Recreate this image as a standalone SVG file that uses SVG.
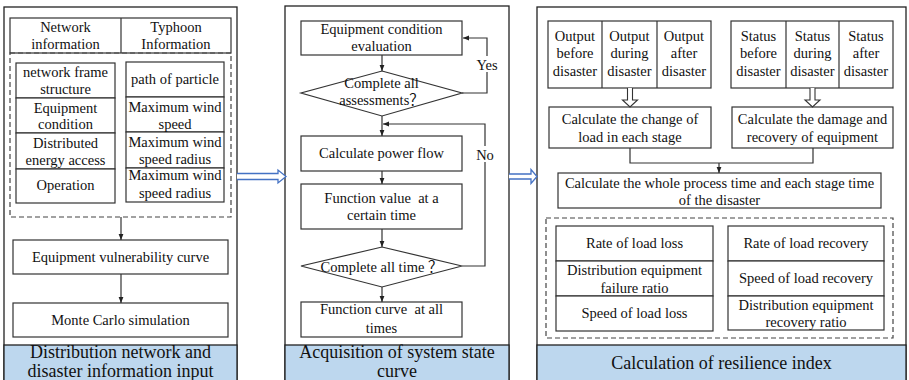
<svg xmlns="http://www.w3.org/2000/svg" width="909" height="380" viewBox="0 0 909 380" font-family="'Liberation Serif', 'Times New Roman', Tinos, 'DejaVu Serif', serif">
<style>
text{font-size:14.5px;fill:#111;text-anchor:middle}
.cjk{font-family:"Noto Sans CJK SC",sans-serif}
.big{font-size:18px}
.box{fill:#fff;stroke:#333;stroke-width:1.2}
.panel{fill:#fff;stroke:#222;stroke-width:1.3}
.band{fill:#bdd7ee;stroke:#222;stroke-width:1.3}
.dash{fill:none;stroke:#444;stroke-width:1.2;stroke-dasharray:5,3}
.ln{fill:none;stroke:#333;stroke-width:1.2}
.arr{fill:none;stroke:#333;stroke-width:1.2;marker-end:url(#ah)}
.hol{fill:#fff;stroke:#4472c4;stroke-width:1.3}
.hold{fill:#fff;stroke:#333;stroke-width:1.1}
</style>
<defs>
<marker id="ah" viewBox="0 0 10 10" refX="10" refY="5" markerWidth="6" markerHeight="6" markerUnits="userSpaceOnUse" orient="auto">
<path d="M0,1 L10,5 L0,9 z" fill="#222"/>
</marker>
</defs>

<!-- Panel 1 -->
<g id="panel1">
<rect class="panel" x="4" y="7" width="233" height="380"/>
<rect class="band" x="4" y="345" width="233" height="42"/>
<text class="big" x="120.5" y="358">Distribution network and</text>
<text class="big" x="120.5" y="377">disaster information input</text>
</g>
<g id="header1">
<rect class="box" x="10" y="18" width="221" height="35"/>
<line class="ln" x1="121" y1="18" x2="121" y2="53"/>
<text x="65.5" y="32">Network</text>
<text x="65.5" y="49">information</text>
<text x="176" y="32">Typhoon</text>
<text x="176" y="49">Information</text>
</g>
<g id="inputs1">
<rect class="dash" x="10" y="53" width="221" height="164"/>
<rect class="box" x="16" y="63" width="99" height="35"/>
<rect class="box" x="16" y="98" width="99" height="35"/>
<rect class="box" x="16" y="133" width="99" height="36"/>
<rect class="box" x="16" y="169" width="99" height="34"/>
<text x="65.5" y="77">network frame</text>
<text x="65.5" y="94">structure</text>
<text x="65.5" y="113">Equipment</text>
<text x="65.5" y="129">condition</text>
<text x="65.5" y="148">Distributed</text>
<text x="65.5" y="165">energy access</text>
<text x="65.5" y="190">Operation</text>
<rect class="box" x="126" y="62" width="98" height="35"/>
<rect class="box" x="126" y="97" width="98" height="35"/>
<rect class="box" x="126" y="132" width="98" height="36"/>
<rect class="box" x="126" y="168" width="98" height="34"/>
<text x="175" y="84">path of particle</text>
<text x="175" y="112">Maximum wind</text>
<text x="175" y="129">speed</text>
<text x="175" y="147">Maximum wind</text>
<text x="175" y="164">speed radius</text>
<text x="175" y="180">Maximum wind</text>
<text x="175" y="198">speed radius</text>
</g>
<g id="vuln">
<rect class="box" x="13" y="240" width="215" height="34"/>
<text x="120.5" y="262">Equipment vulnerability curve</text>
</g>
<g id="monte">
<rect class="box" x="13" y="303" width="215" height="34"/>
<text x="120.5" y="325">Monte Carlo simulation</text>
</g>

<!-- Panel 2 -->
<g id="panel2">
<rect class="panel" x="285" y="6" width="224" height="381"/>
<rect class="band" x="285" y="345" width="224" height="42"/>
<text class="big" x="397" y="358">Acquisition of system state</text>
<text class="big" x="397" y="377">curve</text>
</g>
<g id="evalbox">
<rect class="box" x="301" y="21" width="161" height="34"/>
<text x="381.5" y="34">Equipment condition</text>
<text x="381.5" y="51">evaluation</text>
</g>
<g id="diamond1">
<polygon class="box" points="382,71 462,93 382,116 301,93"/>
<text x="381.5" y="88">Complete all</text>
<text x="381.5" y="105">assessments<tspan class="cjk">？</tspan></text>
</g>
<g id="powerflow">
<rect class="box" x="301" y="136" width="161" height="35"/>
<text x="381.5" y="158">Calculate power flow</text>
</g>
<g id="funcvalue">
<rect class="box" x="301" y="184" width="161" height="45"/>
<text x="381.5" y="203" xml:space="preserve">Function value  at a</text>
<text x="381.5" y="220">certain time</text>
</g>
<g id="diamond2">
<polygon class="box" points="382,247 462,266 382,287 301,266"/>
<text x="381.5" y="272" xml:space="preserve">Complete all time <tspan class="cjk">？</tspan></text>
</g>
<g id="funccurve">
<rect class="box" x="301" y="302" width="161" height="35"/>
<text x="381.5" y="314" xml:space="preserve">Function curve  at all</text>
<text x="381.5" y="333">times</text>
</g>

<!-- Panel 3 -->
<g id="panel3">
<rect class="panel" x="537" y="7" width="369" height="380"/>
<rect class="band" x="537" y="345" width="369" height="42"/>
<text class="big" x="721.5" y="369">Calculation of resilience index</text>
</g>
<g id="outputs">
<rect class="box" x="548" y="21" width="163" height="67"/>
<line class="ln" x1="602" y1="21" x2="602" y2="88"/>
<line class="ln" x1="657" y1="21" x2="657" y2="88"/>
<text x="575" y="41">Output</text><text x="575" y="58">before</text><text x="575" y="76">disaster</text>
<text x="629.5" y="41">Output</text><text x="629.5" y="58">during</text><text x="629.5" y="76">disaster</text>
<text x="684" y="41">Output</text><text x="684" y="58">after</text><text x="684" y="76">disaster</text>
</g>
<g id="statuses">
<rect class="box" x="731" y="21" width="162" height="67"/>
<line class="ln" x1="786" y1="21" x2="786" y2="88"/>
<line class="ln" x1="839" y1="21" x2="839" y2="88"/>
<text x="758.5" y="41">Status</text><text x="758.5" y="58">before</text><text x="758.5" y="76">disaster</text>
<text x="812.5" y="41">Status</text><text x="812.5" y="58">during</text><text x="812.5" y="76">disaster</text>
<text x="866" y="41">Status</text><text x="866" y="58">after</text><text x="866" y="76">disaster</text>
</g>
<g id="loadchange">
<rect class="box" x="549" y="107" width="162" height="41"/>
<text x="630" y="124">Calculate the change of</text>
<text x="630" y="142">load in each stage</text>
</g>
<g id="damage">
<rect class="box" x="732" y="107" width="161" height="41"/>
<text x="812.5" y="124">Calculate the damage and</text>
<text x="812.5" y="142">recovery of equipment</text>
</g>
<g id="wholetime">
<rect class="box" x="558" y="173" width="323" height="35"/>
<text x="719.5" y="188">Calculate the whole process time and each stage time</text>
<text x="719.5" y="205">of the disaster</text>
</g>
<g id="indices">
<rect class="dash" x="546" y="218" width="347" height="120"/>
<rect class="box" x="556" y="226" width="157" height="35"/>
<rect class="box" x="556" y="261" width="157" height="35"/>
<rect class="box" x="556" y="296" width="157" height="35"/>
<text x="634.5" y="248">Rate of load loss</text>
<text x="634.5" y="275">Distribution equipment</text>
<text x="634.5" y="293">failure ratio</text>
<text x="634.5" y="318">Speed of load loss</text>
<rect class="box" x="728" y="226" width="156" height="35"/>
<rect class="box" x="728" y="261" width="156" height="35"/>
<rect class="box" x="728" y="296" width="156" height="34"/>
<text x="806" y="248">Rate of load recovery</text>
<text x="806" y="283">Speed of load recovery</text>
<text x="806" y="310">Distribution equipment</text>
<text x="806" y="327">recovery ratio</text>
</g>

<!-- Connectors -->
<g id="connectors">
<line class="arr" x1="121" y1="217" x2="121" y2="240"/>
<line class="arr" x1="121" y1="274" x2="121" y2="303"/>
<line class="arr" x1="382" y1="55" x2="382" y2="71"/>
<polyline class="arr" points="462,93 487,93 487,38 463,38"/>
<rect x="476" y="56" width="22" height="16" fill="#fff"/>
<text x="487" y="70">Yes</text>
<line class="arr" x1="382" y1="116" x2="382" y2="136"/>
<line class="arr" x1="382" y1="171" x2="382" y2="184"/>
<line class="arr" x1="382" y1="229" x2="382" y2="247"/>
<polyline class="arr" points="462,266 485,266 485,124 383,124"/>
<rect x="476" y="146" width="19" height="16" fill="#fff"/>
<text x="485" y="160">No</text>
<line class="arr" x1="382" y1="287" x2="382" y2="302"/>
<path class="hold" d="M627.5,88 V100 H622.5 L630,107 L637.5,100 H632.5 V88"/>
<path class="hold" d="M810,88 V100 H805 L812.5,107 L820,100 H815 V88"/>
<polyline class="ln" points="630,148 630,163 813,163 813,148"/>
<line class="arr" x1="719" y1="163" x2="719" y2="173"/>
<path class="hol" d="M237,173.5 H278 V170 L286,176.5 L278,183 V179.5 H237"/>
<path class="hol" d="M509,174 H531 V169.5 L537,176.5 L531,183.5 V179 H509"/>
</g>
</svg>
